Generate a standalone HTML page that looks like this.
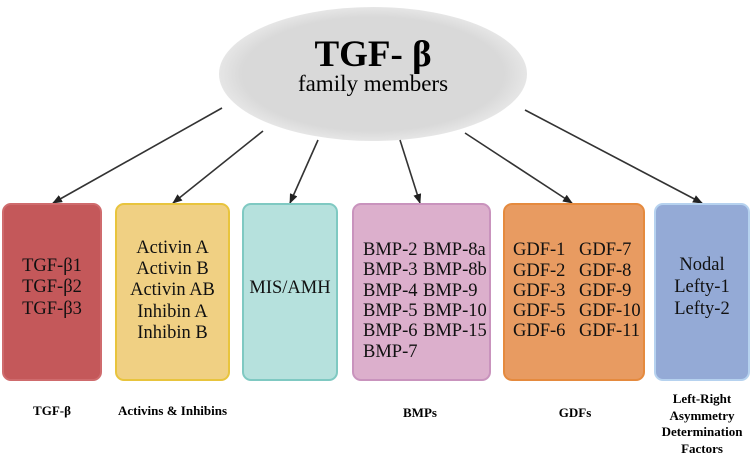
<!DOCTYPE html>
<html><head><style>
body{margin:0;width:751px;height:454px;background:#fff;overflow:hidden;position:relative;font-family:"Liberation Serif",serif;}
.b{position:absolute;top:203px;height:178px;border-radius:9px;box-sizing:border-box;border:2px solid;display:flex;align-items:center;justify-content:center;text-align:center;font-size:18.5px;line-height:21.5px;color:#111;white-space:nowrap;}
.b span{display:inline-block;}
.l{position:absolute;font-weight:bold;font-size:13px;text-align:center;line-height:16.5px;}
</style></head><body>
<svg width="751" height="454" style="position:absolute;left:0;top:0">
<defs><marker id="a" markerWidth="10" markerHeight="8" refX="9" refY="4" orient="auto" markerUnits="userSpaceOnUse"><path d="M0,0L10,4L0,8z" fill="#222"/></marker>
<radialGradient id="g" cx="50%" cy="50%" r="50%"><stop offset="85%" stop-color="#d9d9d9"/><stop offset="100%" stop-color="#e6e6e6"/></radialGradient></defs>
<ellipse cx="373" cy="74" rx="154" ry="67" fill="url(#g)"/>
<g stroke="#333" stroke-width="1.6" fill="none" marker-end="url(#a)">
<line x1="222" y1="108" x2="53" y2="203"/>
<line x1="263" y1="131" x2="173" y2="203"/>
<line x1="318" y1="140" x2="290" y2="203"/>
<line x1="400" y1="140" x2="420" y2="203"/>
<line x1="465" y1="133" x2="572" y2="203"/>
<line x1="525" y1="110" x2="702" y2="203"/>
</g>
<text x="373" y="66" text-anchor="middle" font-family="Liberation Serif" font-weight="bold" font-size="37">TGF- β</text>
<text x="373" y="91" text-anchor="middle" font-family="Liberation Serif" font-size="23">family members</text>
</svg>
<div class="b" style="left:2px;width:100px;background:#c4585a;border-color:#cf6b6d;padding-bottom:8px">TGF-β1<br>TGF-β2<br>TGF-β3</div>
<div class="b" style="left:115px;width:115px;background:#f0d083;border-color:#e8c43d;padding-bottom:2px;line-height:21.3px">Activin A<br>Activin B<br>Activin AB<br>Inhibin A<br>Inhibin B</div>
<div class="b" style="left:242px;width:96px;background:#b6e1dd;border-color:#7fc9c2;padding-bottom:6px">MIS/AMH</div>
<div class="b" style="left:352px;width:139px;background:#dcafcc;border-color:#c993bd;text-align:left;padding-left:9px;justify-content:flex-start;line-height:20.3px;padding-top:18px"><div><span style="width:60px">BMP-2</span>BMP-8a<br><span style="width:60px">BMP-3</span>BMP-8b<br><span style="width:60px">BMP-4</span>BMP-9<br><span style="width:60px">BMP-5</span>BMP-10<br><span style="width:60px">BMP-6</span>BMP-15<br>BMP-7</div></div>
<div class="b" style="left:503px;width:142px;background:#e89b61;border-color:#e58a3e;text-align:left;justify-content:flex-start;padding-left:8px;line-height:20.3px;padding-bottom:2px"><div><span style="width:66px">GDF-1</span>GDF-7<br><span style="width:66px">GDF-2</span>GDF-8<br><span style="width:66px">GDF-3</span>GDF-9<br><span style="width:66px">GDF-5</span>GDF-10<br><span style="width:66px">GDF-6</span>GDF-11</div></div>
<div class="b" style="left:654px;width:96px;background:#94aad6;border-color:#b6d2ef;align-items:flex-start;padding-top:49px;line-height:22px">Nodal<br>Lefty-1<br>Lefty-2</div>
<div class="l" style="left:2px;width:100px;top:403px">TGF-β</div>
<div class="l" style="left:100px;width:145px;top:403px">Activins &amp; Inhibins</div>
<div class="l" style="left:380px;width:80px;top:405px">BMPs</div>
<div class="l" style="left:535px;width:80px;top:405px">GDFs</div>
<div class="l" style="left:652px;width:100px;top:391px">Left-Right<br>Asymmetry<br>Determination<br>Factors</div>
</body></html>
